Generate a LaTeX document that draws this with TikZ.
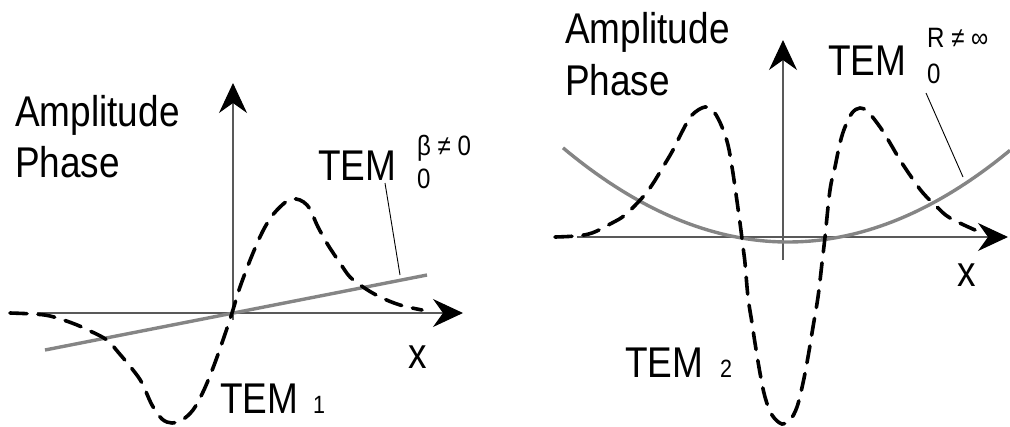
\documentclass[tikz,border=0pt]{standalone}
\usepackage{fontspec}
\newfontfamily\lab[FakeStretch=0.86]{Liberation Sans}
\usetikzlibrary{arrows.meta}
\begin{document}
\begin{tikzpicture}[x=1pt,y=-1pt,
  axis/.style={draw=black!65, line width=1.1pt},
  tip/.style={-{Stealth[length=30pt,width=28pt,inset=10pt,black]}},
  wave/.style={black, line width=3.6pt, dash pattern=on 17pt off 11pt, line cap=round},
  phase/.style={draw=black!48, line width=3.4pt},
  lead/.style={black, line width=0.9pt},
  big/.style={anchor=base west, inner sep=0pt, font=\lab\fontsize{43}{48}\selectfont},
  small/.style={anchor=base west, inner sep=0pt, font=\lab\fontsize{28}{32}\selectfont},
  tiny/.style={anchor=base west, inner sep=0pt, font=\lab\fontsize{25}{29}\selectfont}]
\useasboundingbox (0,0) rectangle (1010,426);

% ---------- left panel ----------
\coordinate (LxS) at (37,313);
\coordinate (LxE) at (463,313);
\coordinate (LyS) at (233,320);
\coordinate (LyE) at (233,83);
\draw[axis,tip] (LxS) -- (LxE);
\draw[axis,tip] (LyS) -- (LyE);

\coordinate (LgS) at (45,350);
\coordinate (LgE) at (427,275);
\draw[phase] (LgS) -- (LgE);

\draw[wave] plot[smooth,tension=0.6] coordinates {
 (10,313) (33,314) (50,316) (72,323) (88,330) (107,340) (118,352) (133,370)
 (142,383) (152,405) (162,419) (172,423) (182,420) (193,410) (203,392) (213,368)
 (223,340) (232,313) (240,287) (253,253) (265,227) (277,210) (292,199) (307,205)
 (318,227) (328,245) (340,263) (350,277) (363,287) (380,297) (400,305) (422,310)};

\node[big] (lamp) at (15,126) {Amplitude};
\node[big] (lph) at (15,177) {Phase};
\node[big] (ltem) at (318,180) {TEM};
\node[small] (lbeta) at (417,155) {β ≠ 0};
\node[small] (lzero) at (417,188) {0};
\node[big] (ltem1) at (220,413) {TEM};
\node[tiny] (lone) at (313,413) {1};
\node[big] (lx) at (408,368) {x};
\coordinate (LlS) at (385,183);
\coordinate (LlE) at (400,275);
\draw[lead] (LlS) -- (LlE);

% ---------- right panel ----------
\coordinate (RxS) at (577,237);
\coordinate (RxE) at (1008,237);
\coordinate (RyS) at (783,260);
\coordinate (RyE) at (783,40);
\draw[axis,tip] (RxS) -- (RxE);
\draw[axis,tip] (RyS) -- (RyE);

\draw[phase] plot[domain=563:1010,samples=80] (\x,{242-0.186*((\x-788)/10)^2});

\draw[wave] plot[smooth,tension=0.6] coordinates {
 (555,237) (575,236) (592,233) (612,223) (625,215) (642,198) (652,185) (663,167)
 (673,150) (683,130) (692,115) (705,107) (714,112) (722,127) (728,145) (732,167)
 (735,187) (740,223) (743,247) (745,263) (748,297) (752,323) (755,343) (760,373)
 (765,397) (772,415) (782,424) (790,420) (797,407) (803,383) (808,357) (813,327)
 (818,297) (822,263) (825,237) (830,190) (835,167) (840,143) (845,127) (852,113)
 (860,108) (868,112) (880,127) (890,143) (900,160) (912,178) (923,193) (937,207)
 (950,218) (975,230)};

\node[big] (ramp) at (565,43) {Amplitude};
\node[big] (rph) at (565,95) {Phase};
\node[big] (rtem) at (828,75) {TEM};
\node[small] (rr) at (927,47) {R ≠ ∞};
\node[small] (rzero) at (927,83) {0};
\node[big] (rtem2) at (625,377) {TEM};
\node[tiny] (rtwo) at (720,377) {2};
\node[big] (rx) at (957,286) {x};
\coordinate (RlS) at (926,93);
\coordinate (RlE) at (963,177);
\draw[lead] (RlS) -- (RlE);
\end{tikzpicture}
\end{document}
